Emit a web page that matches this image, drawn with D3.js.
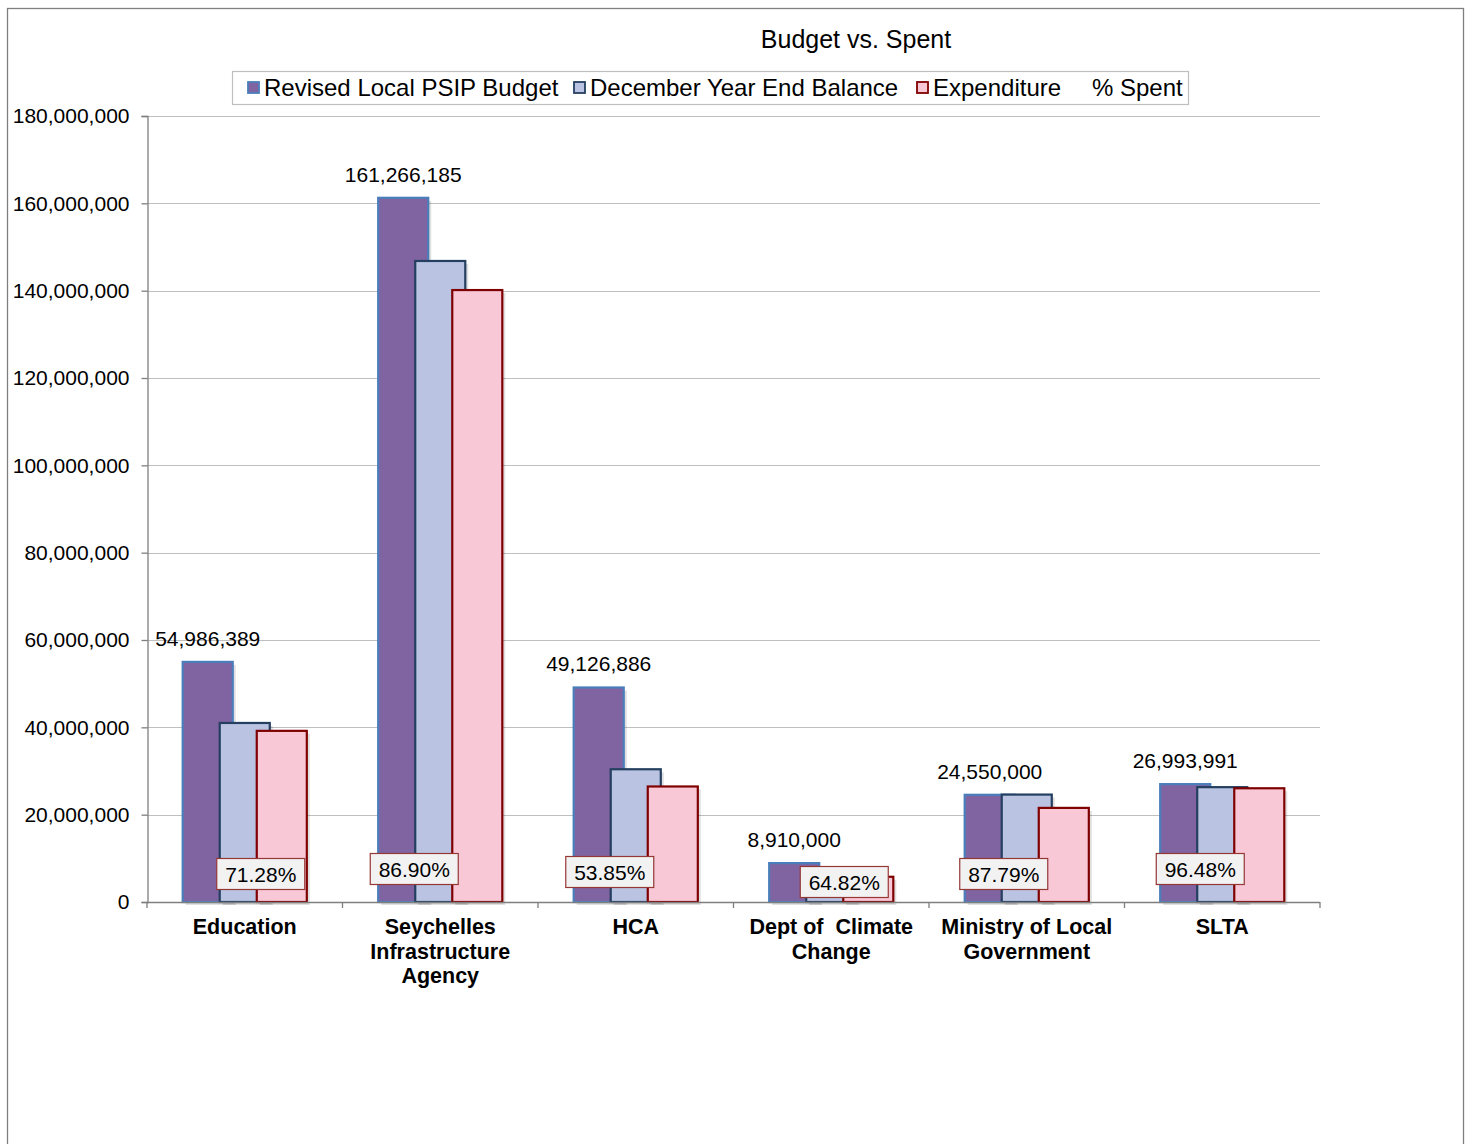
<!DOCTYPE html>
<html lang="en">
	<head>
		<meta charset="utf-8">
		<title>Budget vs. Spent</title>
		<script type="text/javascript" src="https://d3js.org/d3.v7.min.js"></script>
		<style type="text/css">
			body { margin: 0; background: #fff; }
			text { font-family: "Liberation Sans", Arial, sans-serif; fill: #000; }
		</style>
	</head>
	<body>
		<script type="text/javascript">

			// Data
			var categories = [
				["Education"],
				["Seychelles", "Infrastructure", "Agency"],
				["HCA"],
				["Dept of  Climate", "Change"],
				["Ministry of Local", "Government"],
				["SLTA"]
			];
			var budget = [54986389, 161266185, 49126886, 8910000, 24550000, 26993991];
			var balance = [41000000, 146800000, 30400000, 6500000, 24600000, 26300000];
			var expenditure = [39194000, 140140000, 26455000, 5775000, 21553000, 26044000];
			var pctSpent = ["71.28%", "86.90%", "53.85%", "64.82%", "87.79%", "96.48%"];
			var seriesNames = ["Revised Local PSIP Budget", "December Year End Balance", "Expenditure", "% Spent"];
			var yTicks = [0, 20e6, 40e6, 60e6, 80e6, 100e6, 120e6, 140e6, 160e6, 180e6];

			// label nudges (px) for the % boxes, as placed in the original
			var pctDx = [16, -26, -26, 13, -23, -22];
			var pctDy = [-28, -33, -30, -20, -28, -33];

			//Width and height
			var w = 1472;
			var h = 1144;
			var mLeft = 147, mRight = 1320, mTop = 116, mBottom = 902;

			var fills = ["#8064a2", "#bac4e2", "#f9c8d7"];
			var strokes = ["#4a7ebb", "#243f60", "#7f0000"];
			var series = [budget, balance, expenditure];

			var svg = d3.select("body")
				.append("svg")
				.attr("width", w)
				.attr("height", h);

			// outer frame
			svg.append("rect")
				.attr("x", 7.5).attr("y", 8.5)
				.attr("width", 1456).attr("height", 1160)
				.attr("fill", "#fff")
				.attr("stroke", "#7f7f7f")
				.attr("stroke-width", 1.3);

			var x = d3.scaleBand()
				.domain(d3.range(categories.length))
				.range([mLeft, mRight]);

			var y = d3.scaleLinear()
				.domain([0, 180e6])
				.range([mBottom, mTop]);

			// gridlines
			svg.append("g")
				.selectAll("line")
				.data(yTicks.slice(1))
				.enter()
				.append("line")
				.attr("x1", mLeft).attr("x2", mRight)
				.attr("y1", function(d){ return Math.round(y(d)) + 0.5; })
				.attr("y2", function(d){ return Math.round(y(d)) + 0.5; })
				.attr("stroke", "#bfbfbf")
				.attr("stroke-width", 1);

			// y axis
			var yAxis = svg.append("g")
				.attr("transform", "translate(" + (mLeft + 0.5) + ",0)")
				.call(d3.axisLeft(y).tickValues(yTicks).tickFormat(d3.format(",")).tickSize(6).tickPadding(12));
			yAxis.select(".domain").attr("stroke", "#7f7f7f").attr("stroke-width", 1.3);
			yAxis.selectAll(".tick line").attr("stroke", "#7f7f7f").attr("stroke-width", 1.3);
			yAxis.selectAll(".tick text")
				.style("font-family", "Liberation Sans, Arial, sans-serif")
				.style("font-size", "21px")
				.attr("fill", "#000");

			// bars
			var bw = x.bandwidth() * 0.256;
			var step = bw * 0.74;
			var off = -(bw + 2 * step) / 2;

			series.forEach(function(vals, s) {
				// soft shadow
				svg.append("g")
					.selectAll("rect")
					.data(vals)
					.enter()
					.append("rect")
					.attr("x", function(d, i){ return x(i) + x.bandwidth() / 2 + off + s * step + 3; })
					.attr("y", function(d){ return y(d) + 3; })
					.attr("width", bw)
					.attr("height", function(d){ return mBottom - y(d); })
					.attr("fill", "#000")
					.attr("opacity", 0.12);
				svg.append("g")
					.selectAll("rect")
					.data(vals)
					.enter()
					.append("rect")
					.attr("x", function(d, i){ return x(i) + x.bandwidth() / 2 + off + s * step; })
					.attr("y", function(d){ return y(d); })
					.attr("width", bw)
					.attr("height", function(d){ return mBottom - y(d); })
					.attr("fill", fills[s])
					.attr("stroke", strokes[s])
					.attr("stroke-width", 2.2);
			});

			// x axis
			var xAxisG = svg.append("g");
			xAxisG.append("line")
				.attr("x1", mLeft).attr("x2", mRight)
				.attr("y1", mBottom + 0.5).attr("y2", mBottom + 0.5)
				.attr("stroke", "#7f7f7f").attr("stroke-width", 1.3);
			xAxisG.selectAll(".xt")
				.data(d3.range(categories.length + 1))
				.enter()
				.append("line")
				.attr("x1", function(i){ return i < categories.length ? x(i) : mRight; })
				.attr("x2", function(i){ return i < categories.length ? x(i) : mRight; })
				.attr("y1", mBottom).attr("y2", mBottom + 6)
				.attr("stroke", "#7f7f7f").attr("stroke-width", 1.3);

			// category labels
			categories.forEach(function(lines, i) {
				var t = svg.append("text")
					.attr("x", x(i) + x.bandwidth() / 2)
					.attr("y", 934)
					.attr("text-anchor", "middle")
					.style("font-size", "21.5px")
					.style("font-weight", "bold")
					.style("white-space", "pre");
				lines.forEach(function(l, j) {
					t.append("tspan")
						.attr("x", x(i) + x.bandwidth() / 2)
						.attr("dy", j === 0 ? 0 : 24.5)
						.text(l);
				});
			});

			// budget value labels
			svg.append("g")
				.selectAll("text")
				.data(budget)
				.enter()
				.append("text")
				.attr("x", function(d, i){ return x(i) + x.bandwidth() / 2 + off + bw / 2; })
				.attr("y", function(d){ return y(d) - 16; })
				.attr("text-anchor", "middle")
				.style("font-size", "21px")
				.text(d3.format(","));

			// % spent labels
			pctSpent.forEach(function(p, i) {
				var cx = x(i) + x.bandwidth() / 2 + pctDx[i];
				var cy = mBottom + pctDy[i];
				var g = svg.append("g");
				var bwid = 88, bh = 31;
				g.append("rect")
					.attr("x", cx - bwid / 2).attr("y", cy - bh / 2)
					.attr("width", bwid).attr("height", bh)
					.attr("fill", "#f2f2f2")
					.attr("stroke", "#953735")
					.attr("stroke-width", 1.2);
				g.append("text")
					.attr("x", cx).attr("y", cy + 7.5)
					.attr("text-anchor", "middle")
					.style("font-size", "21px")
					.text(p);
			});

			// title
			svg.append("text")
				.attr("x", 856).attr("y", 48)
				.attr("text-anchor", "middle")
				.style("font-size", "25px")
				.text("Budget vs. Spent");

			// legend
			var lg = svg.append("g");
			lg.append("rect")
				.attr("x", 232.5).attr("y", 71.5)
				.attr("width", 956).attr("height", 33)
				.attr("fill", "#fff")
				.attr("stroke", "#bfbfbf")
				.attr("stroke-width", 1.2);
			var lx = [248, 574, 917, 1092];
			seriesNames.forEach(function(n, i) {
				if (i < 3) {
					lg.append("rect")
						.attr("x", lx[i]).attr("y", 82)
						.attr("width", 11).attr("height", 11)
						.attr("fill", fills[i])
						.attr("stroke", strokes[i])
						.attr("stroke-width", 1.8);
				}
				lg.append("text")
					.attr("x", i < 3 ? lx[i] + 16 : lx[i])
					.attr("y", 96)
					.style("font-size", "24px")
					.text(n);
			});

		</script>
	</body>
</html>
